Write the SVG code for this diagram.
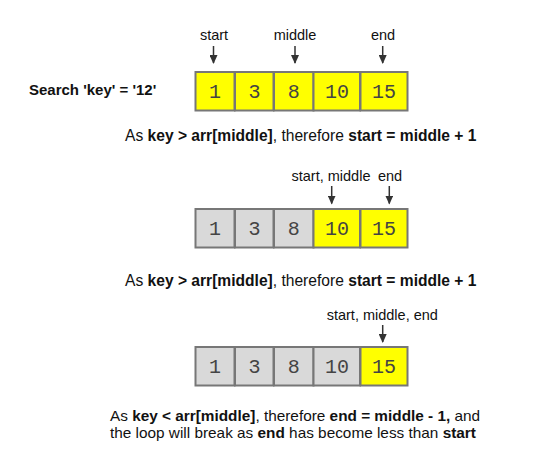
<svg xmlns="http://www.w3.org/2000/svg" width="555" height="464" viewBox="0 0 555 464">
<style>
.y{fill:#ffff00;stroke:#777;stroke-width:2}
.g{fill:#d9d9d9;stroke:#777;stroke-width:2}
.n{font-family:"Liberation Mono",monospace;font-size:20px;fill:#444;text-anchor:middle}
.l{font-family:"Liberation Sans",Arial,sans-serif;font-size:14.5px;fill:#111}
.c{font-family:"Liberation Sans",Arial,sans-serif;font-size:15.6px;fill:#111}
.d{font-family:"Liberation Sans",Arial,sans-serif;font-size:15.35px;fill:#111}
.s{font-family:"Liberation Sans",Arial,sans-serif;font-size:15px;fill:#111}
.b{font-weight:bold}
.a{stroke:#333;stroke-width:1.5;fill:none;marker-end:url(#ah)}
</style>
<defs>
<marker id="ah" markerWidth="9" markerHeight="8" refX="8" refY="4" orient="auto" markerUnits="userSpaceOnUse" viewBox="0 0 9 8">
<path d="M0,0 L9,4 L0,8 Z" fill="#333"/>
</marker>
</defs>
<rect width="555" height="464" fill="#fff"/>
<text class="s b" x="29" y="95">Search 'key' = '12'</text>

<g id="row1">
<rect class="y" x="195.5" y="72" width="39" height="38.5"/>
<rect class="y" x="235" y="72" width="38.5" height="38.5"/>
<rect class="y" x="274" y="72" width="39.5" height="38.5"/>
<rect class="y" x="313.5" y="72" width="46.5" height="38.5"/>
<rect class="y" x="360.5" y="72" width="47" height="38.5"/>
<text class="n" x="215" y="98">1</text>
<text class="n" x="254.5" y="98">3</text>
<text class="n" x="293.7" y="98">8</text>
<text class="n" x="337" y="98">10</text>
<text class="n" x="384" y="98">15</text>
</g>
<g id="labels1">
<text class="l" x="214" y="40" text-anchor="middle">start</text>
<text class="l" x="295" y="40" text-anchor="middle">middle</text>
<text class="l" x="383" y="40" text-anchor="middle">end</text>
</g>
<text class="c" x="125" y="141">As <tspan class="b">key &gt; arr[middle]</tspan>, therefore <tspan class="b">start = middle + 1</tspan></text>

<g id="row2">
<rect class="g" x="195.5" y="209" width="39" height="38.5"/>
<rect class="g" x="235" y="209" width="38.5" height="38.5"/>
<rect class="g" x="274" y="209" width="39.5" height="38.5"/>
<rect class="y" x="313.5" y="209" width="46.5" height="38.5"/>
<rect class="y" x="360.5" y="209" width="47" height="38.5"/>
<text class="n" x="215" y="235">1</text>
<text class="n" x="254.5" y="235">3</text>
<text class="n" x="293.7" y="235">8</text>
<text class="n" x="337" y="235">10</text>
<text class="n" x="384" y="235">15</text>
</g>
<g id="labels2">
<text class="l" x="291.5" y="181">start, middle</text>
<text class="l" x="390" y="181" text-anchor="middle">end</text>
</g>
<text class="c" x="125" y="286">As <tspan class="b">key &gt; arr[middle]</tspan>, therefore <tspan class="b">start = middle + 1</tspan></text>

<g id="row3">
<rect class="g" x="195.5" y="347" width="39" height="38.5"/>
<rect class="g" x="235" y="347" width="38.5" height="38.5"/>
<rect class="g" x="274" y="347" width="39.5" height="38.5"/>
<rect class="g" x="313.5" y="347" width="46.5" height="38.5"/>
<rect class="y" x="360.5" y="347" width="47" height="38.5"/>
<text class="n" x="215" y="373">1</text>
<text class="n" x="254.5" y="373">3</text>
<text class="n" x="293.7" y="373">8</text>
<text class="n" x="337" y="373">10</text>
<text class="n" x="384" y="373">15</text>
</g>
<g id="labels3">
<text class="l" x="326.7" y="320">start, middle, end</text>
</g>
<g id="caption3">
<text class="d" x="110" y="421">As <tspan class="b">key &lt; arr[middle]</tspan>, therefore <tspan class="b">end = middle - 1,</tspan> and</text>
<text class="d" x="110" y="438">the loop will break as <tspan class="b">end</tspan> has become less than <tspan class="b">start</tspan></text>
</g>

<g id="connectors">
<line class="a" x1="213.5" y1="46" x2="213.5" y2="63"/>
<line class="a" x1="295" y1="46" x2="295" y2="63"/>
<line class="a" x1="382.7" y1="46" x2="382.7" y2="63"/>
<line class="a" x1="331.7" y1="186" x2="331.7" y2="203.5"/>
<line class="a" x1="389.3" y1="186" x2="389.3" y2="203.5"/>
<line class="a" x1="382.7" y1="325" x2="382.7" y2="342"/>
</g>
</svg>
